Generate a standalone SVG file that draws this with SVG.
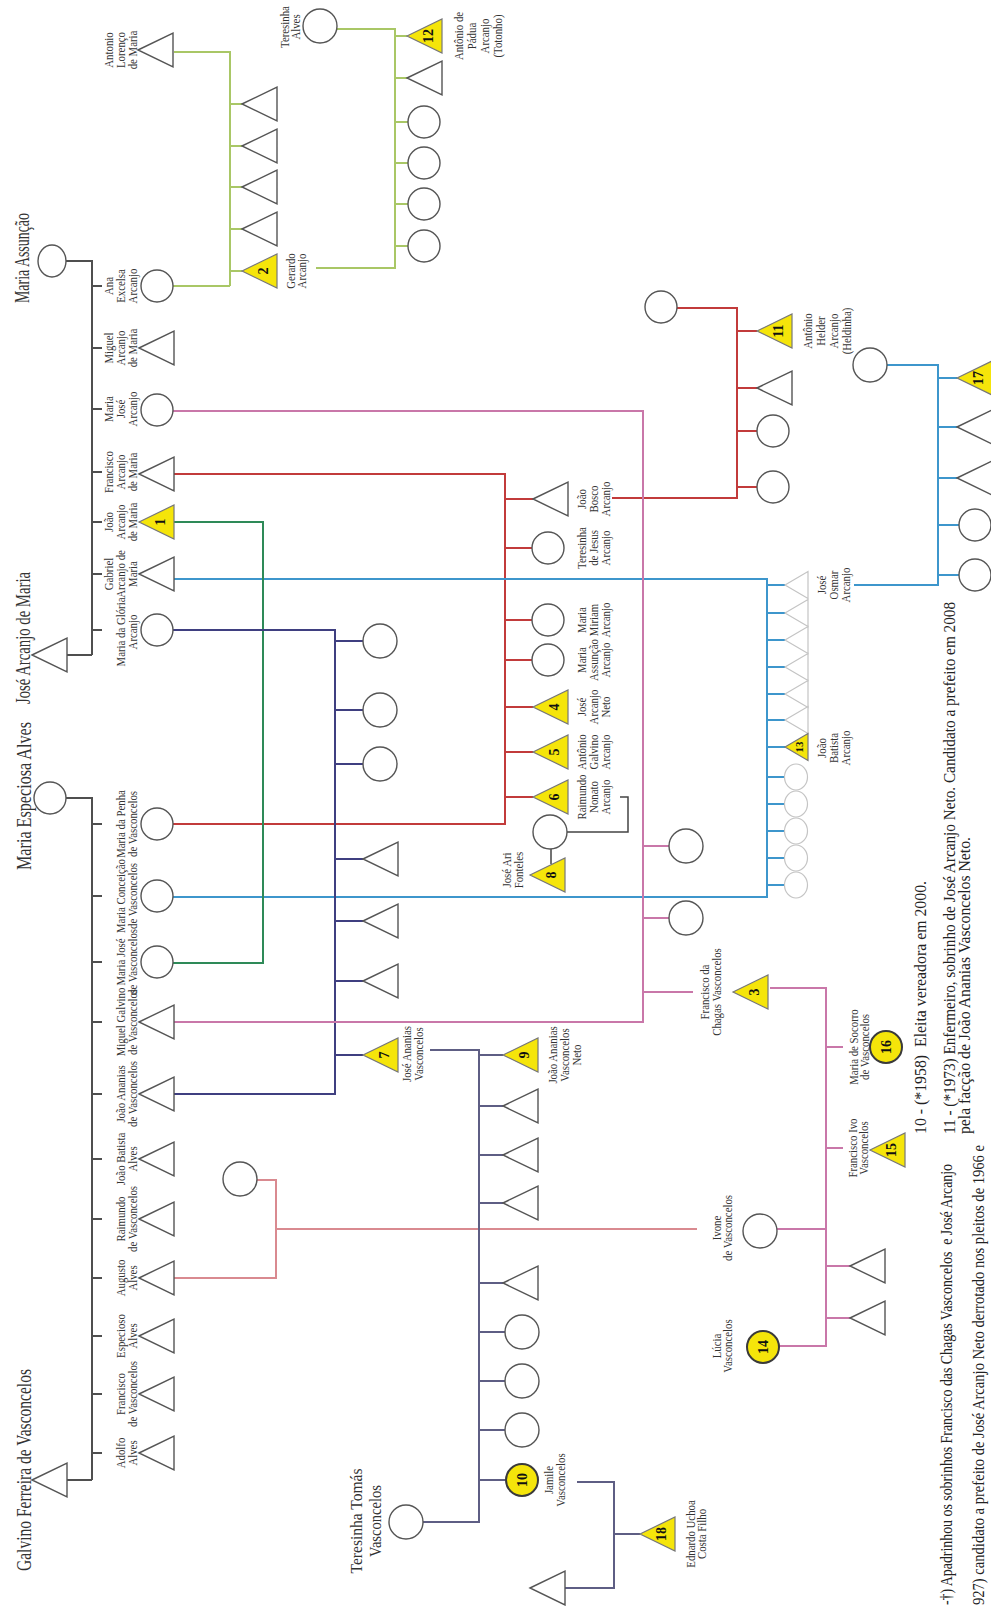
<svg xmlns="http://www.w3.org/2000/svg" width="991" height="1606" viewBox="0 0 991 1606">
<defs>
<style>
.c{fill:none;stroke-width:2}
.g{stroke:#4f4f4f}.red{stroke:#c23b3b}.blu{stroke:#3d96cc}.grn{stroke:#2e8a58}.nav{stroke:#3f3f80}
.pnk{stroke:#c977a9}.lg{stroke:#a9c766}.sal{stroke:#d98a90}.gp{stroke:#5e5e84}.dk{stroke:#444}
.s{fill:#fff;stroke:#555;stroke-width:1.4}
.y{fill:#f5e50a;stroke:#777;stroke-width:1.2}
.yc{fill:#f5e50a;stroke:#3a3a3a;stroke-width:2}
.f{fill:#fff;stroke:#c4c4c4;stroke-width:1.2}
.lb{font-family:"Liberation Serif",serif;font-size:12px;fill:#333;text-anchor:middle}
.num{font-family:"Liberation Serif",serif;font-weight:bold;font-size:14px;fill:#111;text-anchor:middle}
.tt{font-family:"Liberation Serif",serif;font-size:21px;fill:#333;text-anchor:middle}
.fn{font-family:"Liberation Serif",serif;font-size:16px;fill:#222}
</style>
<path id="t" d="M0,0 L35,-17 L35,17 Z"/>
<path id="ts" d="M0,0 L23,-13.5 L23,13.5 Z"/>
</defs>
<rect width="991" height="1606" fill="#fff"/>

<g id="connectors">
<path class="c g" d="M66,261 H92 V655 M65,655 H92 M92,286 H102 M92,348 H102 M92,409 H102 M92,472 H102 M92,522 H102 M92,574 H102 M92,630 H102"/>
<path class="c g" d="M66,798 H92 V1480 M65,1480 H92 M92,824 H102 M92,896 H102 M92,962 H102 M92,1022 H102 M92,1094 H102 M92,1159 H102 M92,1219 H102 M92,1278 H102 M92,1336 H102 M92,1394 H102 M92,1453 H102"/>
<path class="c lg" d="M173,286 H230 M174,52 H230 V286 M230,104 H242 M230,146 H242 M230,187 H242 M230,229 H242 M230,271 H242"/>
<path class="c lg" d="M316,268 H395 V29 H337 M395,36 H407 M395,78 H407 M395,122 H408 M395,163 H408 M395,204 H408 M395,246 H408"/>
<path class="c red" d="M174,474 H505 V824 H173 M505,499 H533 M505,548 H532 M505,620 H532 M505,660 H532 M505,707 H533 M505,752 H533 M505,797 H533"/>
<path class="c red" d="M612,498 H737 V308 H677 M737,331 H757 M737,388 H757 M737,431 H757 M737,487 H757"/>
<path class="c blu" d="M174,579 H767 V897 H173 M767,585 H785 M767,613 H785 M767,640 H785 M767,667 H785 M767,694 H785 M767,720 H785 M767,747 H785 M767,777 H784 M767,804 H784 M767,831 H784 M767,858 H784 M767,885 H784"/>
<path class="c blu" d="M854,585 H938 V365 H887 M938,378 H957 M938,427 H957 M938,478 H957 M938,525 H959 M938,575 H959"/>
<path class="c grn" d="M174,522 H263 V963 H173"/>
<path class="c nav" d="M173,630 H335 V1094 H174 M335,641 H363 M335,710 H363 M335,764 H363 M335,859 H363 M335,921 H363 M335,981 H363 M335,1055 H363"/>
<path class="c pnk" d="M173,411 H643 V1022 H174 M643,846 H669 M643,918 H669 M643,992 H693"/>
<path class="c pnk" d="M770,988 H826 V1346 H779 M826,1047 H843 M826,1148 H843 M777,1229 H826 M826,1266 H850 M826,1318 H850"/>
<path class="c sal" d="M257,1180 H276 V1278 H174 M276,1229 H697"/>
<path class="c gp" d="M430,1050 H479 V1522 H423 M479,1055 H503 M479,1106 H503 M479,1155 H503 M479,1203 H503 M479,1283 H503 M479,1332 H505 M479,1381 H505 M479,1430 H505 M479,1480 H505"/>
<path class="c gp" d="M577,1482 H614 V1588 H563 M614,1534 H640"/>
<path class="c dk" d="M620,797 H628 V832 H567 M551,849 V864" style="stroke-width:1.5"/>
</g>

<!-- Top family -->
<g id="maria-assuncao"><ellipse class="s" cx="52" cy="261" rx="14" ry="16"/><text class="tt" transform="translate(29,258) rotate(-90)" textLength="90" lengthAdjust="spacingAndGlyphs">Maria Assunção</text></g>
<g id="jose-arcanjo-de-maria"><use href="#t" class="s" x="32" y="655"/><text class="tt" transform="translate(30,638) rotate(-90)" textLength="132" lengthAdjust="spacingAndGlyphs">José Arcanjo de Maria</text></g>
<g id="ana-excelsa"><circle class="s" cx="157" cy="286" r="16"/><text class="lb" transform="translate(113,286) rotate(-90) scale(0.9,1)"><tspan x="0" y="0">Ana</tspan><tspan x="0" dy="12">Excelsa</tspan><tspan x="0" dy="12">Arcanjo</tspan></text></g>
<g id="miguel-arcanjo"><use href="#t" class="s" x="139" y="348"/><text class="lb" transform="translate(113,348) rotate(-90) scale(0.9,1)"><tspan x="0" y="0">Miguel</tspan><tspan x="0" dy="12">Arcanjo</tspan><tspan x="0" dy="12">de Maria</tspan></text></g>
<g id="maria-jose-arcanjo"><circle class="s" cx="157" cy="410" r="16"/><text class="lb" transform="translate(113,409) rotate(-90) scale(0.9,1)"><tspan x="0" y="0">Maria</tspan><tspan x="0" dy="12">José</tspan><tspan x="0" dy="12">Arcanjo</tspan></text></g>
<g id="francisco-arcanjo"><use href="#t" class="s" x="139" y="474"/><text class="lb" transform="translate(113,472) rotate(-90) scale(0.9,1)"><tspan x="0" y="0">Francisco</tspan><tspan x="0" dy="12">Arcanjo</tspan><tspan x="0" dy="12">de Maria</tspan></text></g>
<g id="joao-arcanjo"><use href="#t" class="y" x="139" y="522"/><text class="num" transform="translate(165,522) rotate(-90)">1</text><text class="lb" transform="translate(113,522) rotate(-90) scale(0.9,1)"><tspan x="0" y="0">João</tspan><tspan x="0" dy="12">Arcanjo</tspan><tspan x="0" dy="12">de Maria</tspan></text></g>
<g id="gabriel-arcanjo"><use href="#t" class="s" x="139" y="574"/><text class="lb" transform="translate(113,574) rotate(-90) scale(0.9,1)"><tspan x="0" y="0">Gabriel</tspan><tspan x="0" dy="12">Arcanjo de</tspan><tspan x="0" dy="12">Maria</tspan></text></g>
<g id="maria-gloria"><circle class="s" cx="157" cy="630" r="16"/><text class="lb" transform="translate(125,632) rotate(-90) scale(0.9,1)"><tspan x="0" y="0">Maria da Glória</tspan><tspan x="0" dy="12">Arcanjo</tspan></text></g>

<!-- Galvino family -->
<g id="maria-especiosa"><circle class="s" cx="50" cy="798" r="16"/><text class="tt" transform="translate(31,796) rotate(-90)" textLength="148" lengthAdjust="spacingAndGlyphs">Maria Especiosa Alves</text></g>
<g id="galvino"><use href="#t" class="s" x="32" y="1480"/><text class="tt" transform="translate(31,1470) rotate(-90)" textLength="202" lengthAdjust="spacingAndGlyphs">Galvino Ferreira de Vasconcelos</text></g>
<g id="maria-penha"><circle class="s" cx="157" cy="824" r="16"/><text class="lb" transform="translate(125,824) rotate(-90) scale(0.9,1)"><tspan x="0" y="0">Maria da Penha</tspan><tspan x="0" dy="12">de Vasconcelos</tspan></text></g>
<g id="maria-conceicao"><circle class="s" cx="157" cy="896" r="16"/><text class="lb" transform="translate(125,896) rotate(-90) scale(0.9,1)"><tspan x="0" y="0">Maria Conceição</tspan><tspan x="0" dy="12">de Vasconcelos</tspan></text></g>
<g id="maria-jose-vasconcelos"><circle class="s" cx="157" cy="962" r="16"/><text class="lb" transform="translate(125,962) rotate(-90) scale(0.9,1)"><tspan x="0" y="0">Maria José</tspan><tspan x="0" dy="12">de Vasconcelos</tspan></text></g>
<g id="miguel-galvino"><use href="#t" class="s" x="139" y="1022"/><text class="lb" transform="translate(125,1022) rotate(-90) scale(0.9,1)"><tspan x="0" y="0">Miguel Galvino</tspan><tspan x="0" dy="12">de Vasconcelos</tspan></text></g>
<g id="joao-ananias"><use href="#t" class="s" x="139" y="1094"/><text class="lb" transform="translate(125,1094) rotate(-90) scale(0.9,1)"><tspan x="0" y="0">João Ananias</tspan><tspan x="0" dy="12">de Vasconcelos</tspan></text></g>
<g id="joao-batista-alves"><use href="#t" class="s" x="139" y="1159"/><text class="lb" transform="translate(125,1159) rotate(-90) scale(0.9,1)"><tspan x="0" y="0">João Batista</tspan><tspan x="0" dy="12">Alves</tspan></text></g>
<g id="raimundo-vasconcelos"><use href="#t" class="s" x="139" y="1219"/><text class="lb" transform="translate(125,1219) rotate(-90) scale(0.9,1)"><tspan x="0" y="0">Raimundo</tspan><tspan x="0" dy="12">de Vasconcelos</tspan></text></g>
<g id="augusto-alves"><use href="#t" class="s" x="139" y="1278"/><text class="lb" transform="translate(125,1278) rotate(-90) scale(0.9,1)"><tspan x="0" y="0">Augusto</tspan><tspan x="0" dy="12">Alves</tspan></text></g>
<g id="especioso-alves"><use href="#t" class="s" x="139" y="1336"/><text class="lb" transform="translate(125,1336) rotate(-90) scale(0.9,1)"><tspan x="0" y="0">Especioso</tspan><tspan x="0" dy="12">Alves</tspan></text></g>
<g id="francisco-vasconcelos"><use href="#t" class="s" x="139" y="1394"/><text class="lb" transform="translate(125,1394) rotate(-90) scale(0.9,1)"><tspan x="0" y="0">Francisco</tspan><tspan x="0" dy="12">de Vasconcelos</tspan></text></g>
<g id="adolfo-alves"><use href="#t" class="s" x="139" y="1453"/><text class="lb" transform="translate(125,1453) rotate(-90) scale(0.9,1)"><tspan x="0" y="0">Adolfo</tspan><tspan x="0" dy="12">Alves</tspan></text></g>

<!-- Ana Excelsa family -->
<g id="antonio-lorenco"><use href="#t" class="s" x="138" y="50"/><text class="lb" transform="translate(113,50) rotate(-90) scale(0.9,1)"><tspan x="0" y="0">Antonio</tspan><tspan x="0" dy="12">Lorenço</tspan><tspan x="0" dy="12">de Maria</tspan></text></g>
<g id="lg-child-1"><use href="#t" class="s" x="242" y="104"/></g>
<g id="lg-child-2"><use href="#t" class="s" x="242" y="146"/></g>
<g id="lg-child-3"><use href="#t" class="s" x="242" y="187"/></g>
<g id="lg-child-4"><use href="#t" class="s" x="242" y="229"/></g>
<g id="gerardo"><use href="#t" class="y" x="242" y="271"/><text class="num" transform="translate(268,271) rotate(-90)">2</text><text class="lb" transform="translate(295,271) rotate(-90) scale(0.9,1)"><tspan x="0" y="0">Gerardo</tspan><tspan x="0" dy="11">Arcanjo</tspan></text></g>
<g id="teresinha-alves"><circle class="s" cx="320" cy="26" r="17"/><text class="lb" transform="translate(289,27) rotate(-90) scale(0.9,1)"><tspan x="0" y="0">Teresinha</tspan><tspan x="0" dy="11">Alves</tspan></text></g>
<g id="antonio-padua"><use href="#t" class="y" x="407" y="36"/><text class="num" transform="translate(433,36) rotate(-90)">12</text><text class="lb" transform="translate(463,36) rotate(-90) scale(0.9,1)"><tspan x="0" y="0">Antônio de</tspan><tspan x="0" dy="13">Pádua</tspan><tspan x="0" dy="13">Arcanjo</tspan><tspan x="0" dy="13">(Totonho)</tspan></text></g>
<g id="tg-child-2"><use href="#t" class="s" x="407" y="78"/></g>
<g id="tg-child-3"><circle class="s" cx="424" cy="122" r="16"/></g>
<g id="tg-child-4"><circle class="s" cx="424" cy="163" r="16"/></g>
<g id="tg-child-5"><circle class="s" cx="424" cy="204" r="16"/></g>
<g id="tg-child-6"><circle class="s" cx="424" cy="246" r="16"/></g>

<!-- Red family -->
<g id="joao-bosco"><use href="#t" class="s" x="533" y="499"/><text class="lb" transform="translate(586,499) rotate(-90) scale(0.9,1)"><tspan x="0" y="0">João</tspan><tspan x="0" dy="12">Bosco</tspan><tspan x="0" dy="12">Arcanjo</tspan></text></g>
<g id="teresinha-jesus"><circle class="s" cx="548" cy="548" r="16"/><text class="lb" transform="translate(586,548) rotate(-90) scale(0.9,1)"><tspan x="0" y="0">Teresinha</tspan><tspan x="0" dy="12">de Jesus</tspan><tspan x="0" dy="12">Arcanjo</tspan></text></g>
<g id="maria-miriam"><circle class="s" cx="548" cy="620" r="16"/><text class="lb" transform="translate(586,620) rotate(-90) scale(0.9,1)"><tspan x="0" y="0">Maria</tspan><tspan x="0" dy="12">Miriam</tspan><tspan x="0" dy="12">Arcanjo</tspan></text></g>
<g id="maria-assuncao-arcanjo"><circle class="s" cx="548" cy="660" r="16"/><text class="lb" transform="translate(586,660) rotate(-90) scale(0.9,1)"><tspan x="0" y="0">Maria</tspan><tspan x="0" dy="12">Assunção</tspan><tspan x="0" dy="12">Arcanjo</tspan></text></g>
<g id="jose-arcanjo-neto"><use href="#t" class="y" x="533" y="707"/><text class="num" transform="translate(559,707) rotate(-90)">4</text><text class="lb" transform="translate(586,707) rotate(-90) scale(0.9,1)"><tspan x="0" y="0">José</tspan><tspan x="0" dy="12">Arcanjo</tspan><tspan x="0" dy="12">Neto</tspan></text></g>
<g id="antonio-galvino"><use href="#t" class="y" x="533" y="752"/><text class="num" transform="translate(559,752) rotate(-90)">5</text><text class="lb" transform="translate(586,752) rotate(-90) scale(0.9,1)"><tspan x="0" y="0">Antônio</tspan><tspan x="0" dy="12">Galvino</tspan><tspan x="0" dy="12">Arcanjo</tspan></text></g>
<g id="raimundo-nonato"><use href="#t" class="y" x="533" y="797"/><text class="num" transform="translate(559,797) rotate(-90)">6</text><text class="lb" transform="translate(586,797) rotate(-90) scale(0.9,1)"><tspan x="0" y="0">Raimundo</tspan><tspan x="0" dy="12">Nonato</tspan><tspan x="0" dy="12">Arcanjo</tspan></text></g>
<g id="raimundo-spouse"><circle class="s" cx="550" cy="832" r="17"/></g>
<g id="jose-ari-fonteles"><use href="#t" class="y" x="530" y="875"/><text class="num" transform="translate(556,875) rotate(-90)">8</text><text class="lb" transform="translate(511,870) rotate(-90) scale(0.9,1)"><tspan x="0" y="0">José Ari</tspan><tspan x="0" dy="12">Fonteles</tspan></text></g>
<g id="bosco-spouse"><circle class="s" cx="661" cy="307" r="16"/></g>
<g id="antonio-helder"><use href="#t" class="y" x="757" y="331"/><text class="num" transform="translate(783,331) rotate(-90)">11</text><text class="lb" transform="translate(812,331) rotate(-90) scale(0.9,1)"><tspan x="0" y="0">Antônio</tspan><tspan x="0" dy="13">Helder</tspan><tspan x="0" dy="13">Arcanjo</tspan><tspan x="0" dy="13">(Heldinha)</tspan></text></g>
<g id="bosco-child-2"><use href="#t" class="s" x="757" y="388"/></g>
<g id="bosco-child-3"><circle class="s" cx="773" cy="431" r="16"/></g>
<g id="bosco-child-4"><circle class="s" cx="773" cy="487" r="16"/></g>

<!-- Blue family -->
<g id="jose-osmar"><use href="#ts" class="f" x="785" y="585"/><text class="lb" transform="translate(826,585) rotate(-90) scale(0.9,1)"><tspan x="0" y="0">José</tspan><tspan x="0" dy="12">Osmar</tspan><tspan x="0" dy="12">Arcanjo</tspan></text></g>
<g id="blue-child-2"><use href="#ts" class="f" x="785" y="613"/></g>
<g id="blue-child-3"><use href="#ts" class="f" x="785" y="640"/></g>
<g id="blue-child-4"><use href="#ts" class="f" x="785" y="667"/></g>
<g id="blue-child-5"><use href="#ts" class="f" x="785" y="694"/></g>
<g id="blue-child-6"><use href="#ts" class="f" x="785" y="720"/></g>
<g id="joao-batista-arcanjo"><use href="#ts" class="y" x="785" y="747"/><text class="num" style="font-size:11px" transform="translate(803,747) rotate(-90)">13</text><text class="lb" transform="translate(826,748) rotate(-90) scale(0.9,1)"><tspan x="0" y="0">João</tspan><tspan x="0" dy="12">Batista</tspan><tspan x="0" dy="12">Arcanjo</tspan></text></g>
<g id="blue-child-8"><ellipse class="f" cx="796" cy="777" rx="11.5" ry="13"/></g>
<g id="blue-child-9"><ellipse class="f" cx="796" cy="804" rx="11.5" ry="13"/></g>
<g id="blue-child-10"><ellipse class="f" cx="796" cy="831" rx="11.5" ry="13"/></g>
<g id="blue-child-11"><ellipse class="f" cx="796" cy="858" rx="11.5" ry="13"/></g>
<g id="blue-child-12"><ellipse class="f" cx="796" cy="885" rx="11.5" ry="13"/></g>
<g id="osmar-spouse"><circle class="s" cx="870" cy="365" r="17"/></g>
<g id="osmar-child-17"><use href="#t" class="y" x="957" y="378"/><text class="num" transform="translate(983,378) rotate(-90)">17</text></g>
<g id="osmar-child-2"><use href="#t" class="s" x="957" y="427"/></g>
<g id="osmar-child-3"><use href="#t" class="s" x="957" y="478"/></g>
<g id="osmar-child-4"><circle class="s" cx="975" cy="525" r="16"/></g>
<g id="osmar-child-5"><circle class="s" cx="975" cy="575" r="16"/></g>

<!-- Navy family -->
<g id="navy-child-1"><circle class="s" cx="380" cy="641" r="17"/></g>
<g id="navy-child-2"><circle class="s" cx="380" cy="710" r="17"/></g>
<g id="navy-child-3"><circle class="s" cx="380" cy="764" r="17"/></g>
<g id="navy-child-4"><use href="#t" class="s" x="363" y="859"/></g>
<g id="navy-child-5"><use href="#t" class="s" x="363" y="921"/></g>
<g id="navy-child-6"><use href="#t" class="s" x="363" y="981"/></g>
<g id="jose-ananias"><use href="#t" class="y" x="363" y="1055"/><text class="num" transform="translate(389,1055) rotate(-90)">7</text><text class="lb" transform="translate(411,1054) rotate(-90) scale(0.9,1)"><tspan x="0" y="0">José Ananias</tspan><tspan x="0" dy="12">Vasconcelos</tspan></text></g>
<g id="teresinha-tomas"><circle class="s" cx="406" cy="1522" r="17"/><text class="tt" style="font-size:17px" transform="translate(362,1521) rotate(-90)"><tspan x="0" y="0" textLength="105" lengthAdjust="spacingAndGlyphs">Teresinha Tomás</tspan><tspan x="0" dy="19" textLength="72" lengthAdjust="spacingAndGlyphs">Vasconcelos</tspan></text></g>
<g id="joao-ananias-neto"><use href="#t" class="y" x="503" y="1055"/><text class="num" transform="translate(529,1055) rotate(-90)">9</text><text class="lb" transform="translate(557,1055) rotate(-90) scale(0.9,1)"><tspan x="0" y="0">João Ananias</tspan><tspan x="0" dy="12">Vasconcelos</tspan><tspan x="0" dy="12">Neto</tspan></text></g>
<g id="ja-child-2"><use href="#t" class="s" x="503" y="1106"/></g>
<g id="ja-child-3"><use href="#t" class="s" x="503" y="1155"/></g>
<g id="ja-child-4"><use href="#t" class="s" x="503" y="1203"/></g>
<g id="ja-child-5"><use href="#t" class="s" x="503" y="1283"/></g>
<g id="ja-child-6"><circle class="s" cx="522" cy="1332" r="17"/></g>
<g id="ja-child-7"><circle class="s" cx="522" cy="1381" r="17"/></g>
<g id="ja-child-8"><circle class="s" cx="522" cy="1430" r="17"/></g>
<g id="jamile"><circle class="yc" cx="522" cy="1480" r="16"/><text class="num" transform="translate(527,1480) rotate(-90)">10</text><text class="lb" transform="translate(553,1480) rotate(-90) scale(0.9,1)"><tspan x="0" y="0">Jamile</tspan><tspan x="0" dy="12">Vasconcelos</tspan></text></g>
<g id="jamile-spouse"><use href="#t" class="s" x="530" y="1588"/></g>
<g id="ednardo"><use href="#t" class="y" x="640" y="1534"/><text class="num" transform="translate(666,1534) rotate(-90)">18</text><text class="lb" transform="translate(695,1534) rotate(-90) scale(0.9,1)"><tspan x="0" y="0">Ednardo Uchoa</tspan><tspan x="0" dy="11">Costa Filho</tspan></text></g>

<!-- Pink family -->
<g id="pink-child-1"><circle class="s" cx="686" cy="846" r="17"/></g>
<g id="pink-child-2"><circle class="s" cx="686" cy="918" r="17"/></g>
<g id="francisco-chagas"><use href="#t" class="y" x="733" y="992"/><text class="num" transform="translate(759,992) rotate(-90)">3</text><text class="lb" transform="translate(709,992) rotate(-90) scale(0.9,1)"><tspan x="0" y="0">Francisco da</tspan><tspan x="0" dy="12">Chagas Vasconcelos</tspan></text></g>
<g id="maria-socorro"><circle class="yc" cx="886" cy="1047" r="16"/><text class="num" transform="translate(891,1047) rotate(-90)">16</text><text class="lb" transform="translate(858,1047) rotate(-90) scale(0.9,1)"><tspan x="0" y="0">Maria de Socorro</tspan><tspan x="0" dy="11.5">de Vasconcelos</tspan></text></g>
<g id="francisco-ivo"><use href="#t" class="y" x="870" y="1150"/><text class="num" transform="translate(896,1150) rotate(-90)">15</text><text class="lb" transform="translate(857,1148) rotate(-90) scale(0.9,1)"><tspan x="0" y="0">Francisco Ivo</tspan><tspan x="0" dy="11.5">Vasconcelos</tspan></text></g>
<g id="ivone"><circle class="s" cx="760" cy="1231" r="17"/><text class="lb" transform="translate(721,1228) rotate(-90) scale(0.9,1)"><tspan x="0" y="0">Ivone</tspan><tspan x="0" dy="11.5">de Vasconcelos</tspan></text></g>
<g id="chagas-child-3"><use href="#t" class="s" x="850" y="1266"/></g>
<g id="chagas-child-4"><use href="#t" class="s" x="850" y="1318"/></g>
<g id="lucia"><circle class="yc" cx="763" cy="1347" r="16"/><text class="num" transform="translate(768,1347) rotate(-90)">14</text><text class="lb" transform="translate(721,1346) rotate(-90) scale(0.9,1)"><tspan x="0" y="0">Lúcia</tspan><tspan x="0" dy="11.5">Vasconcelos</tspan></text></g>

<!-- Augusto spouse -->
<g id="augusto-spouse"><circle class="s" cx="240" cy="1179" r="17"/></g>

<!-- Footnotes -->
<g id="notes">
<text class="fn" xml:space="preserve" transform="translate(926,1134) rotate(-90)" textLength="253" lengthAdjust="spacingAndGlyphs">10 - (*1958)  Eleita vereadora em 2000.</text>
<text class="fn" transform="translate(955,1134) rotate(-90)" textLength="532" lengthAdjust="spacingAndGlyphs">11 - (*1973) Enfermeiro, sobrinho de José Arcanjo Neto. Candidato a prefeito em 2008</text>
<text class="fn" transform="translate(970,1134) rotate(-90)" textLength="297" lengthAdjust="spacingAndGlyphs">pela facção de João Ananias Vasconcelos Neto.</text>
<text class="fn" xml:space="preserve" transform="translate(952,1605) rotate(-90)" textLength="441" lengthAdjust="spacingAndGlyphs">-†) Apadrinhou os sobrinhos Francisco das Chagas Vasconcelos  e José Arcanjo</text>
<text class="fn" transform="translate(984,1605) rotate(-90)" textLength="460" lengthAdjust="spacingAndGlyphs">927) candidato a prefeito de José Arcanjo Neto derrotado nos pleitos de 1966 e</text>
</g>
</svg>
